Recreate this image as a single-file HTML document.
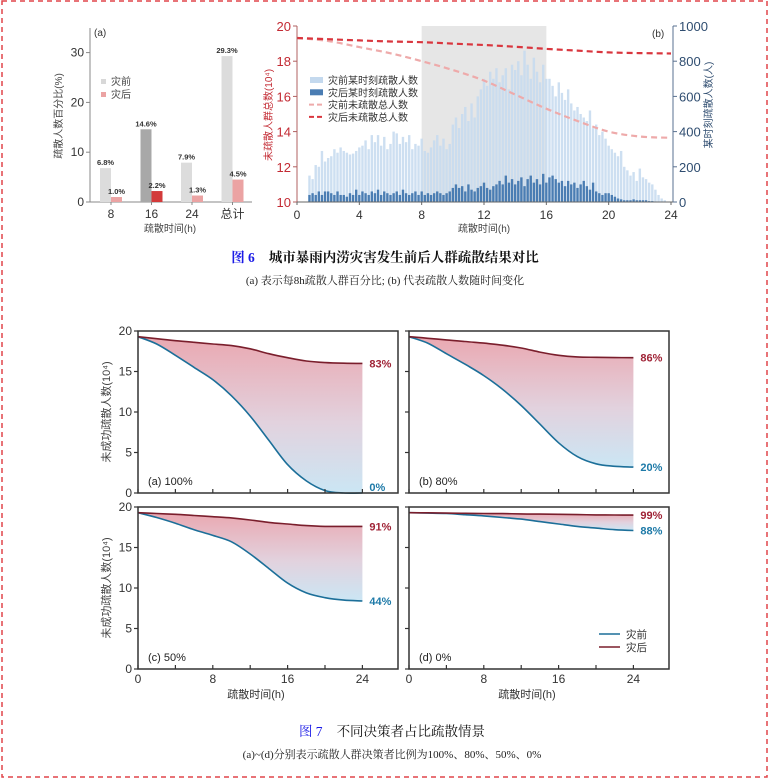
<!DOCTYPE html>
<html><head><meta charset="utf-8"><style>
html,body{margin:0;padding:0;background:#fff;}
body{width:770px;height:784px;position:relative;overflow:hidden;}
svg{position:absolute;left:0;top:0;font-family:"Liberation Sans","Noto Sans CJK SC",sans-serif;}
.cap{font-family:"Liberation Serif","Noto Serif CJK SC",serif;}
</style></head><body>
<svg id="s" width="770" height="784" viewBox="0 0 770 784">
<defs>
<linearGradient id="g1" x1="0" y1="0" x2="0" y2="1"><stop offset="0" stop-color="#eaa8b1"/><stop offset="0.55" stop-color="#e2d2de"/><stop offset="1" stop-color="#cbe6f4"/></linearGradient>
</defs>
<rect x="2" y="1" width="765" height="776" fill="none" stroke="#e0454a" stroke-width="1.5" stroke-dasharray="5,4"/>
<g id="ca"></g>
<g id="cb"></g>
<g id="cc"></g>
<text class="cap" x="385" y="262" text-anchor="middle" font-size="13.5" font-weight="bold"><tspan fill="#1a1ae6">图 6</tspan><tspan dx="14" fill="#111">城市暴雨内涝灾害发生前后人群疏散结果对比</tspan></text>
<text class="cap" x="385" y="284" text-anchor="middle" font-size="11" fill="#222">(a) 表示每8h疏散人群百分比; (b) 代表疏散人数随时间变化</text>
<text class="cap" x="392" y="736" text-anchor="middle" font-size="13.5"><tspan fill="#1a1ae6">图 7</tspan><tspan dx="14" fill="#111">不同决策者占比疏散情景</tspan></text>
<text class="cap" x="392" y="758" text-anchor="middle" font-size="11" fill="#222">(a)~(d)分别表示疏散人群决策者比例为100%、80%、50%、0%</text>
</svg>
<script>
// ---------- data: chart (a)
const aCats=["8","16","24","总计"];
const aPre=[6.8,14.6,7.9,29.3];
const aPost=[1.0,2.2,1.3,4.5];
const aTicks=[0,10,20,30];
// ---------- data: chart (b)
const bStart=0.8, bStep=0.2;
const bPreCounts=[150,130,210,200,290,230,250,
260,300,280,310,290,280,270,275,290,310,
320,350,300,380,340,380,320,370,300,330,
400,390,330,370,340,380,300,330,320,360,
290,280,310,350,380,320,360,300,330,440,
480,420,500,540,460,560,480,600,640,700,
660,740,700,760,680,720,760,640,780,750,
800,720,860,780,700,820,740,680,780,700,
700,660,600,680,620,580,640,560,520,540,
500,480,460,520,420,440,380,400,360,320,
300,280,260,290,200,180,150,170,120,190,
140,130,110,100,70,40,20,10];
const bPostCounts=[40,50,40,60,40,60,60,
50,40,60,40,40,30,50,40,70,40,
60,50,40,60,50,70,40,60,50,40,
50,60,40,70,50,40,50,60,40,60,
40,50,40,50,60,50,40,50,60,80,
100,80,90,60,100,70,60,80,90,110,
80,70,90,100,120,100,150,110,130,100,
120,140,90,130,150,110,130,100,160,110,
140,150,130,110,120,90,120,100,110,80,
100,120,90,70,110,60,50,40,50,50,
40,30,20,15,10,10,10,15,10,10,
10,10,5,5,3,2,0,0];
const bLineT=[0,2,4,6,8,10,12,14,16,18,20,22,24];
const bPreTotal=[19.32,19.15,18.8,18.45,18.0,17.5,16.9,16.1,15.3,14.6,14.0,13.72,13.65];
const bPostTotal=[19.32,19.25,19.18,19.12,19.08,19.0,18.92,18.82,18.7,18.6,18.5,18.46,18.44];
const bLeftTicks=[10,12,14,16,18,20];
const bRightTicks=[0,200,400,600,800,1000];
const bXTicks=[0,4,8,12,16,20,24];
// ---------- data: fig 7
const fT=[0,2,4,6,8,10,12,14,16,18,20,22,24];
const fPreA=[19.3,18.4,17.0,15.5,14.0,12.0,9.5,6.5,3.5,1.5,0.3,0,0];
const fPostA=[19.3,19.05,18.8,18.6,18.4,18.2,17.8,17.2,16.7,16.3,16.1,16.02,16.0];
const fPreB=[19.3,18.5,17.2,15.9,14.5,12.8,10.8,8.5,6.2,4.5,3.6,3.3,3.2];
const fPostB=[19.3,19.1,18.9,18.7,18.5,18.25,17.9,17.4,17.0,16.8,16.75,16.72,16.7];
const fPreC=[19.3,18.7,18.0,17.2,16.5,15.7,14.2,12.4,10.6,9.4,8.8,8.5,8.4];
const fPostC=[19.3,19.2,19.1,18.95,18.8,18.65,18.4,18.1,17.9,17.7,17.6,17.6,17.6];
const fPreD=[19.3,19.25,19.2,19.05,18.9,18.7,18.5,18.2,17.9,17.6,17.4,17.2,17.1];
const fPostD=[19.3,19.28,19.25,19.22,19.2,19.18,19.15,19.12,19.1,19.06,19.03,19.01,19.0];
const fLabels=[["(a) 100%","83%","0%"],["(b) 80%","86%","20%"],["(c) 50%","91%","44%"],["(d) 0%","99%","88%"]];
const fYTicks=[0,5,10,15,20];
const fXTicks=[0,8,16,24];

const NS="http://www.w3.org/2000/svg";
function mk(parent,tag,attrs,txt){const e=document.createElementNS(NS,tag);for(const k in attrs)e.setAttribute(k,attrs[k]);if(txt!==undefined)e.textContent=txt;parent.appendChild(e);return e;}
function smooth(pts,start){ // catmull-rom to bezier
 let d=(start?'M':'L')+pts[0][0].toFixed(1)+','+pts[0][1].toFixed(1);
 for(let i=0;i<pts.length-1;i++){
  const p0=pts[Math.max(0,i-1)],p1=pts[i],p2=pts[i+1],p3=pts[Math.min(pts.length-1,i+2)];
  const c1=[p1[0]+(p2[0]-p0[0])/6,p1[1]+(p2[1]-p0[1])/6],c2=[p2[0]-(p3[0]-p1[0])/6,p2[1]-(p3[1]-p1[1])/6];
  d+=' C'+c1[0].toFixed(1)+','+c1[1].toFixed(1)+' '+c2[0].toFixed(1)+','+c2[1].toFixed(1)+' '+p2[0].toFixed(1)+','+p2[1].toFixed(1);
 }
 return d;
}

// ===== chart a
(function(){
const g=document.getElementById('ca');
const x0=90,x1=252,yb=202,yt=28;
const ys=v=>yb-v*4.98;
const gx=i=>111+i*40.5;
mk(g,'line',{x1:x0,y1:yt,x2:x0,y2:yb,stroke:'#888','stroke-width':1});
mk(g,'line',{x1:x0,y1:yb,x2:x1,y2:yb,stroke:'#888','stroke-width':1});
aTicks.forEach(v=>{mk(g,'line',{x1:x0-4,y1:ys(v),x2:x0,y2:ys(v),stroke:'#888'});
 const t=mk(g,'text',{x:x0-6,y:ys(v)+4,'text-anchor':'end','font-size':12,fill:'#333'},v);
 });
aCats.forEach((c,i)=>{
 const cx=gx(i);
 const r1=mk(g,'rect',{x:cx-11,y:ys(aPre[i]),width:11,height:aPre[i]*4.98,fill:i==1?'#a8a8a8':'#dcdcdc'});
 
 const r2=mk(g,'rect',{x:cx,y:ys(aPost[i]),width:11,height:aPost[i]*4.98,fill:i==1?'#d33a3a':'#eba3a3'});
 
 mk(g,'text',{x:cx-5.5,y:ys(aPre[i])-3,'text-anchor':'middle','font-size':7.5,'font-weight':'bold',fill:'#333'},aPre[i].toFixed(1)+'%');
 mk(g,'text',{x:cx+5.5,y:ys(aPost[i])-3,'text-anchor':'middle','font-size':7.5,'font-weight':'bold',fill:'#333'},aPost[i].toFixed(1)+'%');
 mk(g,'line',{x1:cx,y1:yb,x2:cx,y2:yb+3,stroke:'#888'});
 const t=mk(g,'text',{x:cx,y:218,'text-anchor':'middle','font-size':12,fill:'#333'},c);
 
});
mk(g,'text',{x:94,y:36,'font-size':10,fill:'#333'},'(a)');
mk(g,'rect',{x:101,y:79,width:5,height:5,fill:'#d8d8d8'});
mk(g,'text',{x:111,y:85,'font-size':10,fill:'#444'},'灾前');
mk(g,'rect',{x:101,y:92,width:5,height:5,fill:'#eba3a3'});
mk(g,'text',{x:111,y:98,'font-size':10,fill:'#444'},'灾后');
mk(g,'text',{x:170,y:232,'text-anchor':'middle','font-size':10,fill:'#444'},'疏散时间(h)');
mk(g,'text',{x:0,y:0,transform:'translate(62,116) rotate(-90)','text-anchor':'middle','font-size':10,fill:'#444'},'疏散人数百分比(%)');
})();

// ===== chart b
(function(){
const g=document.getElementById('cb');
const x0=297,x1=673,yb=202,yt=26;
const xs=t=>x0+t*(671-297)/24;
const yl=v=>yb-(v-10)*(yb-yt)/10;
const yr=v=>yb-v*(yb-yt)/1000;
mk(g,'rect',{x:xs(8),y:yt,width:xs(16)-xs(8),height:yb-yt,fill:'#e6e6e6'});
bPreCounts.forEach((v,i)=>{const t=bStart+i*bStep;
 const r=mk(g,'rect',{x:xs(t)-1.2,y:yr(v),width:2.4,height:yb-yr(v),fill:'#c4d9ee',opacity:0.85});
 });
bPostCounts.forEach((v,i)=>{const t=bStart+i*bStep;
 const r=mk(g,'rect',{x:xs(t)-1.2,y:yr(v),width:2.4,height:yb-yr(v),fill:'#4a7db3'});
 });
const path=arr=>smooth(arr.map((v,i)=>[xs(bLineT[i]),yl(v)]),true);
const p1=mk(g,'path',{d:path(bPreTotal),fill:'none',stroke:'#eeaaaa','stroke-width':2.2,'stroke-dasharray':'6,4'});

const p2=mk(g,'path',{d:path(bPostTotal),fill:'none',stroke:'#d9363e','stroke-width':2.2,'stroke-dasharray':'6,4'});

mk(g,'line',{x1:x0,y1:yt,x2:x0,y2:yb,stroke:'#b06060'});
mk(g,'line',{x1:x1,y1:yt,x2:x1,y2:yb,stroke:'#5a7190'});
mk(g,'line',{x1:x0,y1:yb,x2:x1,y2:yb,stroke:'#666'});
bLeftTicks.forEach(v=>{mk(g,'line',{x1:x0-4,y1:yl(v),x2:x0,y2:yl(v),stroke:'#b06060'});
 const t=mk(g,'text',{x:x0-6,y:yl(v)+5,'text-anchor':'end','font-size':13,fill:'#c32a33'},v);
 });
bRightTicks.forEach(v=>{mk(g,'line',{x1:x1,y1:yr(v),x2:x1+4,y2:yr(v),stroke:'#5a7190'});
 const t=mk(g,'text',{x:x1+6,y:yr(v)+5,'font-size':13,fill:'#2f4d70'},v);
 });
bXTicks.forEach(v=>{mk(g,'line',{x1:xs(v),y1:yb,x2:xs(v),y2:yb+3,stroke:'#666'});
 const t=mk(g,'text',{x:xs(v),y:219,'text-anchor':'middle','font-size':12,fill:'#333'},v);
 });
mk(g,'text',{x:484,y:232,'text-anchor':'middle','font-size':10,fill:'#444'},'疏散时间(h)');
mk(g,'text',{x:652,y:37,'font-size':10,fill:'#333'},'(b)');
mk(g,'text',{x:0,y:0,transform:'translate(272,115) rotate(-90)','text-anchor':'middle','font-size':10,fill:'#c32a33'},'未疏散人群总数(10⁴)');
mk(g,'text',{x:0,y:0,transform:'translate(712,105) rotate(-90)','text-anchor':'middle','font-size':10,fill:'#2f4d70'},'某时刻疏散人数(人)');
const lg=[['rect','#c4d9ee','灾前某时刻疏散人数'],['rect','#4a7db3','灾后某时刻疏散人数'],['dash','#eeaaaa','灾前未疏散总人数'],['dash','#d9363e','灾后未疏散总人数']];
lg.forEach((l,i)=>{const y=80+i*12.3;
 if(l[0]=='rect')mk(g,'rect',{x:310,y:y-3,width:13,height:6,fill:l[1]});
 else mk(g,'line',{x1:309,y1:y,x2:324,y2:y,stroke:l[1],'stroke-width':2,'stroke-dasharray':'5,3'});
 const t=mk(g,'text',{x:328,y:y+4,'font-size':10,fill:'#333'},l[2]);
 });
})();

// ===== fig 7
(function(){
const g=document.getElementById('cc');
const panels=[[138,331,fPreA,fPostA],[409,331,fPreB,fPostB],[138,507,fPreC,fPostC],[409,507,fPreD,fPostD]];
const W=260,H=162,pxh=9.35;
panels.forEach((p,k)=>{
 const [px,py,pre,post]=p;
 const xs=t=>px+t*pxh, ys=v=>py+H-v*H/20;
 const pg=mk(g,'g',{});
 
 const topPts=post.map((v,i)=>[xs(fT[i]),ys(v)]);
 const botPts=pre.map((v,i)=>[xs(fT[i]),ys(v)]);
 const area=smooth(topPts,true)+' '+smooth(botPts.slice().reverse(),false)+'Z';
 mk(pg,'path',{d:area,fill:'url(#g1)'});
 const lp=mk(pg,'path',{d:smooth(botPts,true),fill:'none',stroke:'#1c6f99','stroke-width':1.6,'stroke-linejoin':'round'});
 
 const lq=mk(pg,'path',{d:smooth(topPts,true),fill:'none',stroke:'#7a1e2c','stroke-width':1.6,'stroke-linejoin':'round'});
 
 mk(pg,'rect',{x:px,y:py,width:W,height:H,fill:'none',stroke:'#333','stroke-width':1.5});
 fYTicks.forEach(v=>{mk(pg,'line',{x1:px-4,y1:ys(v),x2:px,y2:ys(v),stroke:'#333','stroke-width':1.2});
  if(k%2==0){const t=mk(pg,'text',{x:px-6,y:ys(v)+4,'text-anchor':'end','font-size':12,fill:'#333'},v);
  }});
 [0,4,8,12,16,20,24].forEach(v=>mk(pg,'line',{x1:xs(v),y1:py+H,x2:xs(v),y2:py+H-4,stroke:'#333','stroke-width':1.2}));
 if(k>=2)fXTicks.forEach(v=>{const t=mk(pg,'text',{x:xs(v),y:py+H+14,'text-anchor':'middle','font-size':12,fill:'#333'},v);
  });
 const L=fLabels[k];
 mk(pg,'text',{x:px+10,y:py+H-8,'font-size':11,fill:'#222'},L[0]);
 const ep=post[post.length-1], er=pre[pre.length-1];
 let yp=ys(ep)+4, yq=ys(er)+4;
 if(yq-yp<12) yq=yp+13;
 mk(pg,'text',{x:xs(24)+7,y:yp,'font-size':11,'font-weight':'bold',fill:'#a02437'},L[1]);
 mk(pg,'text',{x:xs(24)+7,y:Math.min(yq,py+H-2),'font-size':11,'font-weight':'bold',fill:'#1e7aa8'},L[2]);
 if(k>=2) mk(pg,'text',{x:px+W/2-12,y:py+H+29,'text-anchor':'middle','font-size':11,fill:'#333'},'疏散时间(h)');
 if(k%2==0) mk(pg,'text',{x:0,y:0,transform:'translate('+(px-28)+','+(py+H/2)+') rotate(-90)','text-anchor':'middle','font-size':11,fill:'#444'},'未成功疏散人数(10⁴)');
});
[['#1c6f99','灾前',634],['#7a1e2c','灾后',647]].forEach(l=>{
 mk(g,'line',{x1:599,y1:l[2],x2:620,y2:l[2],stroke:l[0],'stroke-width':1.6});
 const t=mk(g,'text',{x:626,y:l[2]+4,'font-size':10.5,fill:'#333'},l[1]);
 
});
})();
</script>
</body></html>
